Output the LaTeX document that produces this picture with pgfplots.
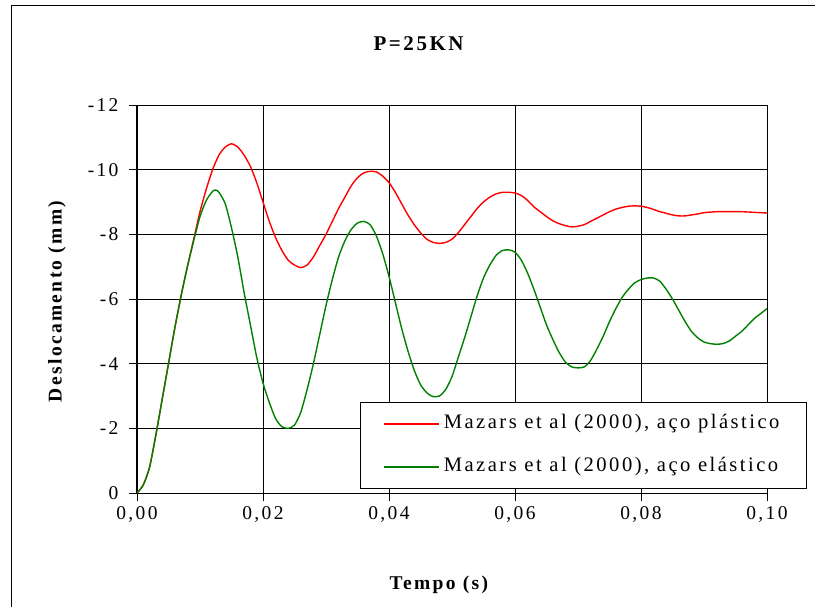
\documentclass[border=0pt]{standalone}
\usepackage{fontspec}
\setmainfont{Liberation Serif}[LetterSpace=12]
\usepackage{pgfplots}
\pgfplotsset{compat=1.18}
\definecolor{exred}{RGB}{255,0,0}
\definecolor{exgreen}{RGB}{0,128,0}
\begin{document}
\begin{tikzpicture}
\useasboundingbox (-137pt,-114pt) rectangle (678pt,493pt);
\begin{axis}[
  scale only axis, width=630pt, height=388pt,
  xmin=0, xmax=0.1, ymin=-12, ymax=0, y dir=reverse,
  xtick={0,0.02,0.04,0.06,0.08,0.1},
  xticklabels={{0,00},{0,02},{0,04},{0,06},{0,08},{0,10}},
  ytick={-12,-10,-8,-6,-4,-2,0},
  yticklabels={-12,-10,-8,-6,-4,-2,0},
  /pgf/number format/assume math mode=true,
  tick pos=left,
  tick align=outside, major tick length=8pt,
  tick style={black, line width=0.8pt},
  grid=major, major grid style={black, line width=0.8pt},
  axis line style={black, line width=1pt},
  ticklabel style={font=\fontsize{19.5}{21}\selectfont},
  yticklabel style={xshift=-7pt},
  xticklabel style={yshift=-2pt},
  title={\textbf{P=25KN}},
  title style={at={(axis description cs:0.449,1)}, anchor=center, yshift=55pt, font=\fontsize{21}{24}\selectfont},
  xlabel={\textbf{Tempo (s)}},
  xlabel style={at={(axis description cs:0.481,0)}, anchor=center, yshift=-92pt, font=\fontsize{19.5}{22}\selectfont},
  ylabel={\textbf{Deslocamento (mm)}},
  ylabel style={at={(axis description cs:-0.127,0.497)}, anchor=center, font=\fontsize{19.5}{22}\selectfont},
  legend cell align=left,
  legend image code/.code={\draw[#1] (0pt,0pt) -- (55pt,0pt);},
  legend style={at={(axis description cs:0.354,0.2345)}, anchor=north west, draw=black, line width=0.8pt, fill=white,
    inner xsep=23pt, inner ysep=0pt, row sep=0pt,
    font=\fontsize{20.6}{22}\selectfont,
    nodes={inner xsep=4pt, inner ysep=13pt, text height=13pt, text depth=4pt}},
]
\addplot[exred, line width=1.4pt, smooth, tension=0.4] coordinates {
(0,0) (0.001,-0.25) (0.002,-0.8) (0.003,-1.8) (0.004,-2.9) (0.005,-4.0) (0.006,-5.1) (0.007,-6.1) (0.008,-7.0) (0.009,-7.85)
(0.010,-8.7) (0.011,-9.4) (0.012,-10.0) (0.013,-10.45) (0.014,-10.7) (0.015,-10.8) (0.016,-10.7) (0.017,-10.45) (0.018,-10.1) (0.019,-9.6)
(0.020,-9.0) (0.021,-8.4) (0.022,-7.9) (0.023,-7.5) (0.024,-7.2) (0.025,-7.05) (0.026,-6.97) (0.027,-7.05) (0.028,-7.3) (0.029,-7.65)
(0.030,-8.0) (0.031,-8.4) (0.032,-8.8) (0.033,-9.15) (0.034,-9.5) (0.035,-9.75) (0.036,-9.9) (0.037,-9.95) (0.038,-9.93) (0.039,-9.8)
(0.040,-9.6) (0.041,-9.3) (0.042,-8.95) (0.043,-8.6) (0.044,-8.3) (0.045,-8.05) (0.046,-7.85) (0.047,-7.75) (0.048,-7.72) (0.049,-7.75)
(0.050,-7.85) (0.051,-8.05) (0.052,-8.3) (0.053,-8.55) (0.054,-8.8) (0.055,-9.0) (0.056,-9.15) (0.057,-9.25) (0.058,-9.3) (0.059,-9.3)
(0.060,-9.28) (0.061,-9.2) (0.062,-9.05) (0.063,-8.85) (0.064,-8.7) (0.065,-8.55) (0.066,-8.42) (0.067,-8.33) (0.068,-8.27) (0.069,-8.23)
(0.070,-8.25) (0.071,-8.3) (0.072,-8.4) (0.073,-8.5) (0.074,-8.6) (0.075,-8.7) (0.076,-8.78) (0.077,-8.83) (0.078,-8.87) (0.079,-8.88)
(0.080,-8.87) (0.081,-8.83) (0.082,-8.77) (0.083,-8.7) (0.084,-8.65) (0.085,-8.6) (0.086,-8.57) (0.087,-8.57) (0.088,-8.6) (0.089,-8.63)
(0.090,-8.67) (0.092,-8.7) (0.094,-8.7) (0.096,-8.7) (0.098,-8.68) (0.100,-8.66)
};
\addlegendentry{Mazars et al (2000), aço plástico}
\addplot[exgreen, line width=1.4pt, smooth, tension=0.4] coordinates {
(0,0) (0.001,-0.25) (0.002,-0.8) (0.003,-1.8) (0.004,-2.9) (0.005,-4.0) (0.006,-5.1) (0.007,-6.1) (0.008,-7.0) (0.009,-7.8)
(0.010,-8.55) (0.011,-9.05) (0.012,-9.33) (0.0125,-9.37) (0.013,-9.3) (0.014,-8.95) (0.015,-8.2) (0.016,-7.3) (0.017,-6.2) (0.018,-5.2) (0.019,-4.2)
(0.020,-3.4) (0.021,-2.8) (0.022,-2.3) (0.023,-2.05) (0.024,-2.0) (0.025,-2.1) (0.026,-2.5) (0.027,-3.2) (0.028,-4.0) (0.029,-4.9)
(0.030,-5.8) (0.031,-6.6) (0.032,-7.3) (0.033,-7.8) (0.034,-8.15) (0.035,-8.35) (0.036,-8.4) (0.037,-8.3) (0.038,-7.95) (0.039,-7.4)
(0.040,-6.7) (0.041,-5.9) (0.042,-5.1) (0.043,-4.4) (0.044,-3.8) (0.045,-3.35) (0.046,-3.1) (0.047,-2.98) (0.048,-3.0) (0.049,-3.2)
(0.050,-3.6) (0.051,-4.2) (0.052,-4.8) (0.053,-5.45) (0.054,-6.1) (0.055,-6.65) (0.056,-7.05) (0.057,-7.35) (0.058,-7.5) (0.059,-7.52)
(0.060,-7.45) (0.061,-7.2) (0.062,-6.8) (0.063,-6.3) (0.064,-5.75) (0.065,-5.2) (0.066,-4.75) (0.067,-4.35) (0.068,-4.05) (0.069,-3.9)
(0.070,-3.87) (0.071,-3.9) (0.072,-4.1) (0.073,-4.45) (0.074,-4.85) (0.075,-5.3) (0.076,-5.7) (0.077,-6.05) (0.078,-6.3) (0.079,-6.5)
(0.080,-6.6) (0.081,-6.65) (0.082,-6.65) (0.083,-6.55) (0.084,-6.3) (0.085,-6.0) (0.086,-5.65) (0.087,-5.3) (0.088,-5.0) (0.089,-4.8)
(0.090,-4.67) (0.091,-4.62) (0.092,-4.6) (0.093,-4.62) (0.094,-4.7) (0.095,-4.85) (0.096,-5.0) (0.097,-5.2) (0.098,-5.4) (0.099,-5.55) (0.100,-5.7)
};
\addlegendentry{Mazars et al (2000), aço elástico}
\end{axis}
\draw[black, line width=1pt] (-125pt,-120pt) -- (-125pt,487pt) -- (690pt,487pt);
\end{tikzpicture}
\end{document}
